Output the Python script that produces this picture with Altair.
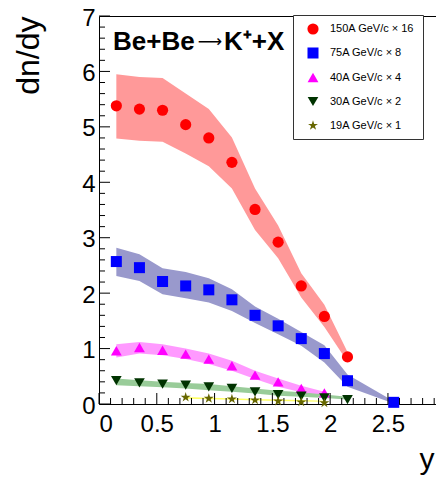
import altair as alt
import pandas as pd

# ---------------- data ----------------
SERIES = ["150A GeV/c × 16", "75A GeV/c × 8", "40A GeV/c × 4", "30A GeV/c × 2", "19A GeV/c × 1"]

X_150 = [0.15, 0.35, 0.55, 0.75, 0.95, 1.15, 1.35, 1.55, 1.75, 1.95, 2.15]
Y_150 = [5.38, 5.32, 5.30, 5.04, 4.80, 4.36, 3.51, 2.92, 2.13, 1.58, 0.85]
HI_150 = [5.95, 5.90, 5.88, 5.60, 5.32, 4.81, 3.89, 3.22, 2.36, 1.79, 0.94]
LO_150 = [4.79, 4.75, 4.73, 4.52, 4.29, 3.89, 3.14, 2.63, 1.92, 1.39, 0.76]

X_75 = [0.15, 0.35, 0.55, 0.75, 0.95, 1.15, 1.35, 1.55, 1.75, 1.95, 2.15, 2.55]
Y_75 = [2.57, 2.46, 2.21, 2.13, 2.06, 1.88, 1.60, 1.41, 1.18, 0.91, 0.42, 0.03]
HI_75 = [2.82, 2.70, 2.45, 2.38, 2.27, 2.07, 1.76, 1.54, 1.30, 1.06, 0.53, 0.05]
LO_75 = [2.31, 2.22, 1.98, 1.91, 1.83, 1.68, 1.46, 1.26, 1.05, 0.75, 0.31, 0.01]

X_40 = [0.15, 0.35, 0.55, 0.75, 0.95, 1.15, 1.35, 1.55, 1.75, 1.95]
Y_40 = [0.96, 1.02, 0.97, 0.90, 0.81, 0.69, 0.52, 0.40, 0.28, 0.20]
HI_40 = [1.08, 1.12, 1.08, 1.00, 0.91, 0.78, 0.60, 0.46, 0.33, 0.22]
LO_40 = [0.84, 0.91, 0.88, 0.81, 0.72, 0.60, 0.45, 0.31, 0.21, 0.13]

X_30 = [0.15, 0.35, 0.55, 0.75, 0.95, 1.15, 1.35, 1.55, 1.75, 1.95, 2.15]
Y_30 = [0.42, 0.38, 0.36, 0.34, 0.31, 0.28, 0.22, 0.17, 0.14, 0.11, 0.08]
HI_30 = [0.46, 0.43, 0.40, 0.38, 0.36, 0.32, 0.28, 0.24, 0.21, 0.17, 0.13]
LO_30 = [0.34, 0.32, 0.30, 0.28, 0.25, 0.22, 0.19, 0.15, 0.13, 0.11, 0.08]

X_19 = [0.75, 0.95, 1.15, 1.35, 1.55, 1.75, 1.95]
Y_19 = [0.12, 0.10, 0.09, 0.07, 0.05, 0.035, 0.02]
HI_19 = [0.125, 0.115, 0.105, 0.09, 0.08, 0.07, 0.06]
LO_19 = [0.095, 0.085, 0.075, 0.065, 0.055, 0.045, 0.04]

X_MAJOR = [0, 0.5, 1, 1.5, 2, 2.5]
X_MINOR = [round(i * 0.1, 1) for i in range(30) if i % 5 != 0]
Y_MAJOR = [0, 1, 2, 3, 4, 5, 6, 7]
Y_MINOR = [round(i * 0.2, 1) for i in range(35) if i % 5 != 0]

TITLE_PARTS = ["Be+Be", "⟶", "K⁺+X"]
X_TITLE = "y"
Y_TITLE = "dn/dy"

# ---------------- styles ----------------
POINT_COLORS = ["#ff0000", "#0000ff", "#ff00ff", "#003300", "#666600"]
BAND_COLORS = ["#ff9999", "#9999cc", "#ff99ff", "#99cc99", "#ffff66"]
STAR = "M0,-1L0.2245,-0.309L0.951,-0.309L0.363,0.118L0.588,0.809L0,0.382L-0.588,0.809L-0.363,0.118L-0.951,-0.309L-0.2245,-0.309Z"
SHAPES = ["circle", "square", "triangle-up", "triangle-down", STAR]
SIZES = [125, 110, 120, 120, 80]
PAD = "\u00a0" * 14
LABELS = [s + PAD for s in SERIES]

W, H = 345, 388
FONT = "Liberation Sans"

xs = alt.Scale(domain=[0, 2.985], nice=False, zero=False)
ys = alt.Scale(domain=[0, 7], nice=False, zero=False)

x_axis = alt.Axis(values=X_MAJOR, format="~g", ticks=False, domain=False, grid=False,
                  labelFontSize=24, labelPadding=8, labelFont=FONT, labelColor="black",
                  title=X_TITLE, titleFontSize=30, titleFont=FONT, titleFontWeight="normal",
                  titleAnchor="end", titleAlign="right", titleBaseline="alphabetic",
                  titleX=335, titleY=64, titleColor="black")
y_axis = alt.Axis(values=Y_MAJOR, format="~g", ticks=False, domain=False, grid=False,
                  labelFontSize=24, labelPadding=4, labelOffset=2, labelFont=FONT, labelColor="black",
                  title=Y_TITLE, titleFontSize=32, titleFont=FONT, titleFontWeight="normal",
                  titleAngle=270, titleAlign="right", titleBaseline="alphabetic",
                  titleX=-61, titleY=0, titleColor="black")


def X(field):
    return alt.X(field, type="quantitative", scale=xs, axis=x_axis)


def Y(field):
    return alt.Y(field, type="quantitative", scale=ys, axis=y_axis)


series_data = [
    (X_150, Y_150, HI_150, LO_150),
    (X_75, Y_75, HI_75, LO_75),
    (X_40, Y_40, HI_40, LO_40),
    (X_30, Y_30, HI_30, LO_30),
    (X_19, Y_19, HI_19, LO_19),
]

layers = []
pts_rows = []
for i, (xv, yv, hv, lv) in enumerate(series_data):
    band_df = pd.DataFrame({"x": xv, "hi": hv, "lo": lv})
    layers.append(
        alt.Chart(band_df).mark_area(color=BAND_COLORS[i], opacity=1, interpolate="linear")
        .encode(x=X("x"), y=Y("hi"), y2="lo")
    )
    for a, b in zip(xv, yv):
        pts_rows.append({"series": LABELS[i], "x": a, "y": b})

pts_df = pd.DataFrame(pts_rows)
legend = alt.Legend(title=None, orient="none", legendX=194, legendY=-1,
                    strokeColor="#333333", fillColor="white", padding=8,
                    symbolOffset=6, labelOffset=11, labelFontSize=11, labelFont=FONT,
                    labelColor="black", rowPadding=12, labelLimit=0, symbolStrokeWidth=0)

points = alt.Chart(pts_df).mark_point(filled=True, opacity=1, strokeWidth=0).encode(
    x=X("x"), y=Y("y"),
    color=alt.Color("series:N", scale=alt.Scale(domain=LABELS, range=POINT_COLORS), legend=legend),
    shape=alt.Shape("series:N", scale=alt.Scale(domain=LABELS, range=SHAPES), legend=legend),
    size=alt.Size("series:N", scale=alt.Scale(domain=LABELS, range=SIZES), legend=legend),
)
layers.append(points)

# inward tick marks
ymaj = alt.Chart(pd.DataFrame({"v": Y_MAJOR})).mark_rule(color="black", strokeWidth=1).encode(
    y=Y("v"), x=alt.value(0), x2=alt.value(11))
ymin = alt.Chart(pd.DataFrame({"v": Y_MINOR})).mark_rule(color="black", strokeWidth=1).encode(
    y=Y("v"), x=alt.value(0), x2=alt.value(6))
xmaj = alt.Chart(pd.DataFrame({"v": X_MAJOR})).mark_rule(color="black", strokeWidth=1).encode(
    x=X("v"), y=alt.value(H), y2=alt.value(H - 11))
xmin = alt.Chart(pd.DataFrame({"v": X_MINOR})).mark_rule(color="black", strokeWidth=1).encode(
    x=X("v"), y=alt.value(H), y2=alt.value(H - 6))
layers += [ymaj, ymin, xmaj, xmin]

# in-plot title, in three pieces so the arrow can be a long thin one
t1 = alt.Chart(pd.DataFrame({"t": [TITLE_PARTS[0]]})).mark_text(
    font=FONT, fontSize=26, fontWeight="bold", align="left", baseline="alphabetic", color="black"
).encode(text="t:N", x=alt.value(14), y=alt.value(34))
t2 = alt.Chart(pd.DataFrame({"t": [TITLE_PARTS[1]]})).mark_text(
    font="DejaVu Sans", fontSize=17, fontWeight="normal", align="center", baseline="alphabetic", color="black"
).encode(text="t:N", x=alt.value(111), y=alt.value(31))
t3 = alt.Chart(pd.DataFrame({"t": [TITLE_PARTS[2]]})).mark_text(
    font=FONT, fontSize=26, fontWeight="bold", align="left", baseline="alphabetic", color="black"
).encode(text="t:N", x=alt.value(125), y=alt.value(34))
layers += [t1, t2, t3]

chart = alt.layer(*layers).properties(
    width=W, height=H,
    autosize=alt.AutoSizeParams(type="none"),
    padding={"left": 91, "top": 8, "right": -8, "bottom": 71},
    background="white",
).configure_view(stroke="black", strokeWidth=1)

chart.save("out.html", embed_options={"renderer": "svg", "actions": False})
